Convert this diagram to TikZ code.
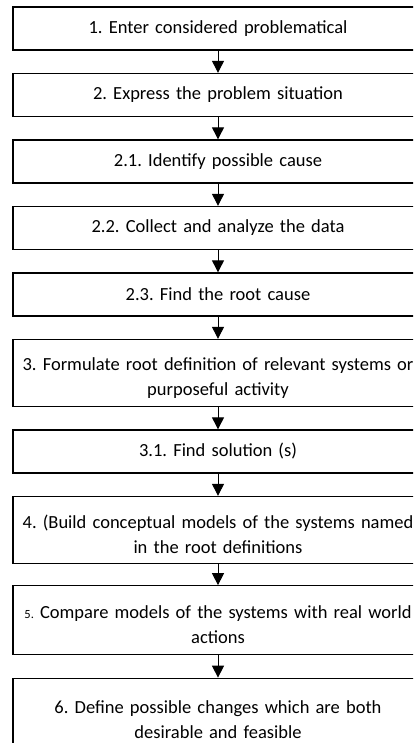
\documentclass[tikz,border=0pt]{standalone}
\usepackage{fontspec}
\setmainfont{Carlito}
\usetikzlibrary{positioning, arrows.meta}

\begin{document}
\frenchspacing
\begin{tikzpicture}[x=1pt, y=1pt, line width=1pt, node distance=22.2pt,
  stepbox/.style={draw, line width=1.3pt, minimum width=410pt, minimum height=43pt,
                  text width=405pt, align=center, inner sep=0pt,
                  font=\fontsize{18.5}{25}\selectfont},
  tallbox/.style={stepbox, minimum height=67pt, execute at begin node={\rule{0pt}{22pt}}},
  flow/.style={-{Triangle[length=12pt, width=12pt]}, line width=1pt}]

% fix the visible area (boxes run past the right and bottom edges)
\useasboundingbox (0, 0) rectangle (413, 743);
\clip (0, 0) rectangle (413, 743);

% draw the steps
\node[stepbox] (s1) at (218, 714.5) {1. Enter considered problematical};
\node[stepbox, below = of s1] (s2) {2. Express the problem situation};
\node[stepbox, below = of s2] (s21) {2.1. Identify possible cause};
\node[stepbox, below = of s21] (s22) {2.2. Collect and analyze the data};
\node[stepbox, below = of s22] (s23) {2.3. Find the root cause};
\node[tallbox, below = of s23] (s3) {3. Formulate root definition of relevant systems or\\ purposeful activity};
\node[stepbox, below = of s3] (s31) {3.1. Find solution (s)};
\node[tallbox, below = of s31] (s4) {4. (Build conceptual models of the systems named\\ in the root definitions};
\node[tallbox, minimum height = 69pt, below = 21pt of s4] (s5) {{\fontsize{12.5}{25}\selectfont 5.} Compare models of the systems with real world\\ actions};
\node[tallbox, minimum height = 73pt, below = of s5] (s6) {6. Define possible changes which are both\\ desirable and feasible};

% draw the arrows
\draw[flow] (s1) -- (s2);
\draw[flow] (s2) -- (s21);
\draw[flow] (s21) -- (s22);
\draw[flow] (s22) -- (s23);
\draw[flow] (s23) -- (s3);
\draw[flow] (s3) -- (s31);
\draw[flow] (s31) -- (s4);
\draw[flow] (s4) -- (s5);
\draw[flow] (s5) -- (s6);

\end{tikzpicture}
\end{document}
